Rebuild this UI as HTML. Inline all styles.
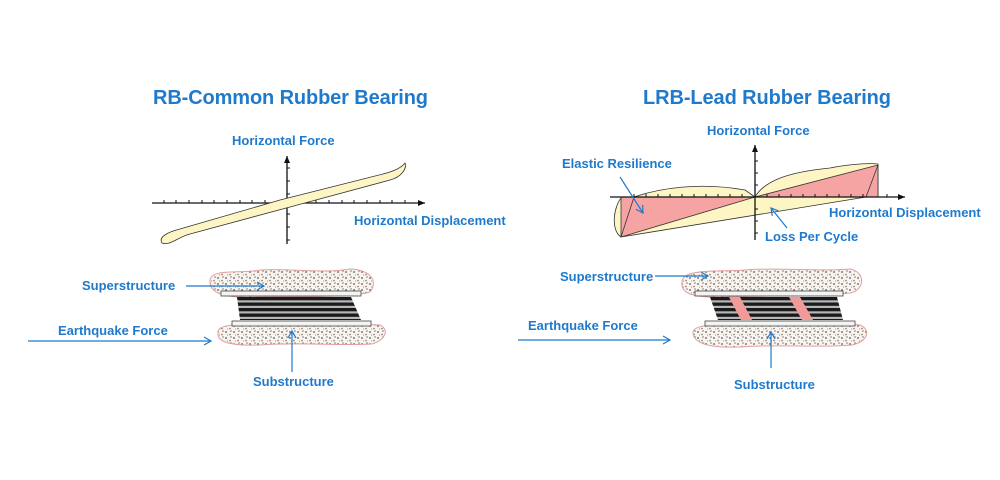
<!DOCTYPE html>
<html><head><meta charset="utf-8"><style>
html,body{margin:0;padding:0;background:#fff;}
svg{display:block;}
text{font-family:"Liberation Sans",sans-serif;font-weight:bold;fill:#1f7acc;}
</style></head><body>
<svg width="1000" height="480" viewBox="0 0 1000 480" xmlns="http://www.w3.org/2000/svg">
<defs>
<pattern id="dots" width="8" height="6" patternUnits="userSpaceOnUse">
<rect width="8" height="6" fill="#f8f5f0"/>
<circle cx="2" cy="2" r="0.9" fill="#555"/><circle cx="6" cy="4.5" r="0.8" fill="#8a6a5a"/><circle cx="7" cy="1" r="0.6" fill="#333"/><circle cx="3.5" cy="5" r="0.5" fill="#777"/>
</pattern>
<pattern id="stripes" width="10" height="5.5" patternUnits="userSpaceOnUse">
<rect width="10" height="5.5" fill="#b8b8b8"/><rect y="0" width="10" height="3.3" fill="#1a1a1a"/>
</pattern>
<marker id="ar" markerWidth="10" markerHeight="10" refX="8" refY="5" orient="auto" markerUnits="userSpaceOnUse"><path d="M1,1 L8,5 L1,9" fill="none" stroke="#1f7acc" stroke-width="1.2"/></marker>
<marker id="ak" markerWidth="8" markerHeight="8" refX="7" refY="4" orient="auto" markerUnits="userSpaceOnUse"><path d="M0,1 L7,4 L0,7z" fill="#111"/></marker>
</defs>

<!-- LEFT -->
<text x="153" y="104" font-size="20" textLength="275">RB-Common Rubber Bearing</text>
<text x="232" y="145" font-size="13">Horizontal Force</text>
<line x1="152" y1="203" x2="425" y2="203" stroke="#111" stroke-width="1.3" marker-end="url(#ak)"/>
<line x1="287" y1="244" x2="287" y2="156" stroke="#111" stroke-width="1.3" marker-end="url(#ak)"/>
<g stroke="#111" stroke-width="1">
<path d="M164 203v-3M176 203v-3M189 203v-3M202 203v-3M214 203v-3M227 203v-3M240 203v-3M252 203v-3M265 203v-3M303 203v-3M316 203v-3M329 203v-3M342 203v-3M354 203v-3M367 203v-3M380 203v-3M392 203v-3M405 203v-3M287 168h3M287 181h3M287 194h3M287 214h3M287 227h3M287 240h3"/>
</g>
<path d="M162 243 C158 237 168 232 180 229 L280 200 L383 174 C395 171 402 167 405 163 C407 168 402 177 390 180 L290 207 L190 234 C178 237 170 246 162 243Z" fill="#fdf6c4" stroke="#333" stroke-width="0.8"/>
<text x="354" y="225" font-size="13">Horizontal Displacement</text>

<path d="M210 280 C212 268 240 274 260 270 C290 268 320 274 350 269 C372 270 378 282 370 292 C350 298 300 296 260 297 C235 298 208 297 210 280Z" fill="url(#dots)" stroke="#e0a0a0" stroke-width="1"/>
<path d="M218 333 C216 322 250 325 280 323 C320 322 360 324 380 325 C390 330 385 340 372 344 C340 346 300 342 260 345 C230 346 217 342 218 333Z" fill="url(#dots)" stroke="#e0a0a0" stroke-width="1"/>
<polygon points="237,297 351,297 361,320 240,320" fill="url(#stripes)"/>
<rect x="221" y="291" width="140" height="5" fill="#f4f4f4" stroke="#444" stroke-width="0.8"/>
<rect x="232" y="321" width="139" height="5" fill="#f4f4f4" stroke="#444" stroke-width="0.8"/>
<text x="82" y="290" font-size="13">Superstructure</text>
<line x1="186" y1="286" x2="264" y2="286" stroke="#1f7acc" stroke-width="1.2" marker-end="url(#ar)"/>
<text x="58" y="335" font-size="13">Earthquake Force</text>
<line x1="28" y1="341" x2="211" y2="341" stroke="#1f7acc" stroke-width="1.2" marker-end="url(#ar)"/>
<line x1="292" y1="372" x2="292" y2="331" stroke="#1f7acc" stroke-width="1.2" marker-end="url(#ar)"/>
<text x="253" y="386" font-size="13">Substructure</text>

<!-- RIGHT -->
<text x="643" y="104" font-size="20" textLength="248">LRB-Lead Rubber Bearing</text>
<text x="707" y="135" font-size="13">Horizontal Force</text>
<path d="M621 237 C610 230 614 205 622 197 L634 197 C660 188 700 182 745 190 L755 197 C765 180 790 172 830 168 C850 164 870 163 878 164 L878 197 L866 197 Z" fill="#fdf6c4" stroke="#333" stroke-width="0.8"/>
<polygon points="621,197 755,197 621,237" fill="#f5a3a3" stroke="#333" stroke-width="0.8"/>
<polygon points="755,197 878,165 878,197" fill="#f5a3a3" stroke="#333" stroke-width="0.8"/>
<line x1="621" y1="237" x2="634" y2="197" stroke="#333" stroke-width="0.8"/>
<line x1="878" y1="165" x2="866" y2="197" stroke="#333" stroke-width="0.8"/>
<line x1="610" y1="197" x2="905" y2="197" stroke="#111" stroke-width="1.3" marker-end="url(#ak)"/>
<line x1="755" y1="240" x2="755" y2="145" stroke="#111" stroke-width="1.3" marker-end="url(#ak)"/>
<path d="M634 197v-3M646 197v-3M658 197v-3M670 197v-3M682 197v-3M694 197v-3M706 197v-3M718 197v-3M730 197v-3M742 197v-3M767 197v-3M779 197v-3M791 197v-3M803 197v-3M815 197v-3M827 197v-3M839 197v-3M851 197v-3M863 197v-3M887 197v-3M755 161h3M755 173h3M755 185h3M755 209h3M755 221h3M755 233h3" stroke="#111" stroke-width="1"/>
<text x="562" y="168" font-size="13">Elastic Resilience</text>
<line x1="620" y1="177" x2="643" y2="213" stroke="#1f7acc" stroke-width="1.2" marker-end="url(#ar)"/>
<text x="829" y="217" font-size="13">Horizontal Displacement</text>
<text x="765" y="241" font-size="13">Loss Per Cycle</text>
<line x1="787" y1="228" x2="771" y2="208" stroke="#1f7acc" stroke-width="1.2" marker-end="url(#ar)"/>

<path d="M682 282 C682 268 720 272 745 270 C780 267 820 272 850 269 C866 272 865 290 850 293 C820 297 770 295 730 297 C700 298 680 296 682 282Z" fill="url(#dots)" stroke="#e0a0a0" stroke-width="1"/>
<path d="M693 333 C692 322 730 325 760 323 C800 322 840 323 860 325 C872 330 867 342 852 345 C820 348 780 344 740 347 C710 348 694 344 693 333Z" fill="url(#dots)" stroke="#e0a0a0" stroke-width="1"/>
<polygon points="710,297 837,297 843,320 718,320" fill="url(#stripes)"/>
<polygon points="729,297 740,297 752,320 741,320" fill="#f29a9a"/>
<polygon points="789,297 800,297 813,320 802,320" fill="#f29a9a"/>
<rect x="695" y="291" width="148" height="5" fill="#f4f4f4" stroke="#444" stroke-width="0.8"/>
<rect x="705" y="321" width="150" height="5" fill="#f4f4f4" stroke="#444" stroke-width="0.8"/>
<text x="560" y="281" font-size="13">Superstructure</text>
<line x1="655" y1="276" x2="708" y2="276" stroke="#1f7acc" stroke-width="1.2" marker-end="url(#ar)"/>
<text x="528" y="330" font-size="13">Earthquake Force</text>
<line x1="518" y1="340" x2="670" y2="340" stroke="#1f7acc" stroke-width="1.2" marker-end="url(#ar)"/>
<line x1="771" y1="368" x2="771" y2="332" stroke="#1f7acc" stroke-width="1.2" marker-end="url(#ar)"/>
<text x="734" y="389" font-size="13">Substructure</text>
</svg>
</body></html>
